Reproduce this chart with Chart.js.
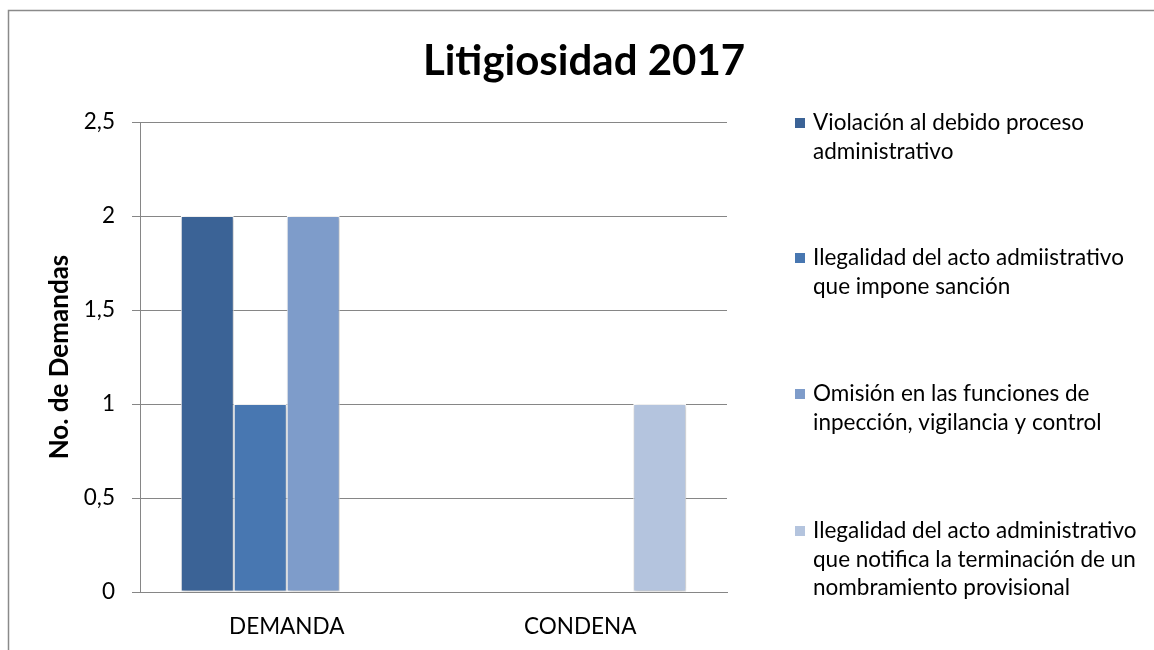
<!DOCTYPE html>
<html>
<head>
<meta charset="utf-8">
<script src="https://cdn.jsdelivr.net/npm/chart.js@4.4.1/dist/chart.umd.min.js"></script>
<style>
  html, body { margin: 0; padding: 0; background: #ffffff; }
  #wrap { width: 1154px; height: 650px; position: relative; }
</style>
</head>
<body>
<div id="wrap"><canvas id="c" width="1154" height="650"></canvas></div>
<script>
const chartTitle = "Litigiosidad 2017";
const yAxisTitle = "No. de Demandas";
const categories = ["DEMANDA", "CONDENA"];
const seriesLabels = [
  ["Violación al debido proceso", "administrativo"],
  ["Ilegalidad del acto admiistrativo", "que impone sanción"],
  ["Omisión en las funciones de", "inpección, vigilancia y control"],
  ["Ilegalidad del acto administrativo", "que notifica la terminación de un", "nombramiento provisional"]
];
const seriesViolacion = [2, 0];
const seriesIlegalidadSancion = [1, 0];
const seriesOmision = [2, 0];
const seriesIlegalidadNombramiento = [0, 1];
const seriesColors = ["#3B6396", "#4877B1", "#7E9CCA", "#B4C4DE"];
const yTicks = [0, 0.5, 1, 1.5, 2, 2.5];

const seriesValues = [seriesViolacion, seriesIlegalidadSancion, seriesOmision, seriesIlegalidadNombramiento];
const FONT = "Lato, 'Carlito', Calibri, sans-serif";

const framePlugin = {
  id: 'frame',
  beforeDraw(chart) {
    const ctx = chart.ctx;
    ctx.save();
    ctx.strokeStyle = '#8a8a8a';
    ctx.lineWidth = 1.5;
    ctx.beginPath();
    ctx.moveTo(8.5, 650);
    ctx.lineTo(8.5, 10.5);
    ctx.lineTo(1154, 10.5);
    ctx.stroke();
    // title
    ctx.fillStyle = '#000';
    ctx.font = "bold 42px " + FONT;
    ctx.textAlign = 'center';
    ctx.textBaseline = 'alphabetic';
    ctx.fillText(chartTitle, 584, 75);
    ctx.restore();
  },
  afterDraw(chart) {
    const ctx = chart.ctx;
    ctx.save();
    ctx.font = "22.5px " + FONT;
    ctx.textBaseline = 'middle';
    ctx.textAlign = 'left';
    const firstY = [123, 258, 394, 531];
    chart.data.datasets.forEach((ds, i) => {
      const y0 = firstY[i];
      ctx.fillStyle = ds.backgroundColor;
      ctx.fillRect(795, y0 - 5, 10, 10);
      ctx.fillStyle = '#000';
      ds.legendLines.forEach((line, j) => {
        ctx.fillText(line, 813, y0 + j * 28.5);
      });
    });
    ctx.restore();
  }
};

const shadowPlugin = {
  id: 'barShadow',
  beforeDatasetsDraw(chart) {
    const ctx = chart.ctx;
    ctx.save();
    ctx.shadowColor = 'rgba(0,0,0,0.28)';
    ctx.shadowBlur = 4;
    ctx.shadowOffsetX = 1;
    ctx.shadowOffsetY = 1;
  },
  afterDatasetsDraw(chart) {
    chart.ctx.restore();
  }
};

new Chart(document.getElementById('c'), {
  type: 'bar',
  data: {
    labels: categories,
    datasets: seriesValues.map((vals, i) => ({
      label: seriesLabels[i].join(' '),
      legendLines: seriesLabels[i],
      data: vals,
      backgroundColor: seriesColors[i],
      borderColor: '#ffffff',
      borderWidth: 1,
      borderSkipped: false,
      categoryPercentage: 0.722,
      barPercentage: 1.0
    }))
  },
  options: {
    responsive: false,
    animation: false,
    devicePixelRatio: 1,
    layout: { padding: { left: 0, right: 427, top: 122, bottom: 0 } },
    plugins: {
      legend: { display: false },
      title: { display: false },
      tooltip: { enabled: false }
    },
    scales: {
      x: {
        grid: { display: false, drawTicks: false },
        border: { display: true, color: '#868686', width: 1 },
        ticks: { color: '#000', font: { family: FONT, size: 22.5 }, padding: 21 },
        afterFit(scale) { scale.height = 58; }
      },
      y: {
        min: 0,
        max: 2.5,
        afterBuildTicks(scale) { scale.ticks = yTicks.map(v => ({ value: v })); },
        grid: { color: '#868686', lineWidth: 1, tickLength: 8, drawTicks: true },
        border: { display: true, color: '#868686', width: 1 },
        ticks: {
          color: '#000',
          font: { family: FONT, size: 22.5 },
          padding: 17,
          callback: (v) => String(v).replace('.', ',')
        },
        title: {
          display: true,
          text: yAxisTitle,
          color: '#000',
          font: { family: FONT, size: 26, weight: 'bold' },
          padding: { top: 44, bottom: 0 }
        },
        afterFit(scale) { scale.width = 140; }
      }
    }
  },
  plugins: [framePlugin, shadowPlugin]
});
</script>
</body>
</html>
